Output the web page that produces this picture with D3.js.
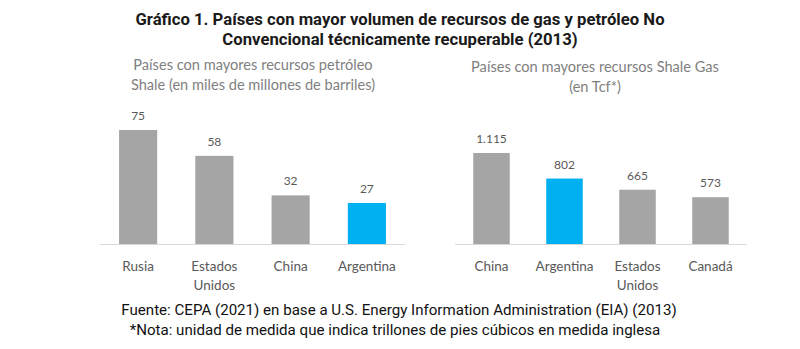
<!DOCTYPE html>
<html lang="es">
<head>
  <meta charset="utf-8">
  <title>Gráfico 1</title>
  <style>
    body { margin: 0; background: #fff; }
    svg { display: block; }
    .title { font-family: Roboto, sans-serif; font-weight: 700; font-size: 16.7px; fill: #1a1a1a; }
    .sub { font-family: Lato, "Open Sans", sans-serif; font-size: 14.6px; fill: #7f7f7f; }
    .val { font-family: Lato, sans-serif; font-size: 12px; fill: #595959; }
    .cat { font-family: Lato, sans-serif; font-size: 13.5px; fill: #595959; }
    .foot { font-family: Roboto, sans-serif; font-size: 15.1px; fill: #111; }
  </style>
</head>
<body>
  <div id="chart"></div>
  <script src="https://d3js.org/d3.v7.min.js"></script>
  <script>
    // datos
    var oilCountries = ["Rusia", "Estados Unidos", "China", "Argentina"];
    var oilValues = [75, 58, 32, 27];
    var gasCountries = ["China", "Argentina", "Estados Unidos", "Canadá"];
    var gasValues = [1115, 802, 665, 573];
    var highlight = "Argentina";

    var titleLines = ["Gráfico 1. Países con mayor volumen de recursos de gas y petróleo No",
                      "Convencional técnicamente recuperable (2013)"];
    var oilSub = ["Países con mayores recursos petróleo", "Shale (en miles de millones de barriles)"];
    var gasSub = ["Países con mayores recursos Shale Gas", "(en Tcf*)"];
    var footLines = ["Fuente: CEPA (2021) en base a U.S. Energy Information Administration (EIA) (2013)",
                     "*Nota: unidad de medida que indica trillones de pies cúbicos en medida inglesa"];

    var w = 800, h = 349;
    var base = 244;
    var es = d3.formatLocale({ decimal: ",", thousands: ".", grouping: [3], currency: ["$", ""] });
    var fmt = es.format(",");

    var svg = d3.select("#chart").append("svg").attr("width", w).attr("height", h);

    svg.selectAll(".title").data(titleLines).enter().append("text")
      .attr("class", "title").attr("x", 400).attr("y", (d, i) => 25 + i * 20)
      .attr("text-anchor", "middle").text(d => d);

    svg.selectAll(".foot").data(footLines).enter().append("text")
      .attr("class", "foot").attr("x", (d, i) => i ? 395 : 399).attr("y", (d, i) => 315 + i * 20)
      .attr("text-anchor", "middle").text(d => d);

    function panel(cats, vals, x0, x1, top, sub, subX, subY) {
      var g = svg.append("g");
      var x = d3.scaleBand().domain(cats).range([x0, x1]).paddingInner(0.5).paddingOuter(0.25);
      var y = d3.scaleLinear().domain([0, d3.max(vals)]).range([base, top]);
      var data = cats.map((c, i) => ({ c: c, v: vals[i] }));

      g.selectAll(".sub").data(sub).enter().append("text")
        .attr("class", "sub").attr("x", subX).attr("y", (d, i) => subY + i * 20)
        .attr("text-anchor", "middle").text(d => d);

      g.selectAll("rect").data(data).enter().append("rect")
        .attr("x", d => x(d.c)).attr("width", x.bandwidth())
        .attr("y", d => y(d.v)).attr("height", d => base - y(d.v))
        .attr("fill", d => d.c === highlight ? "#00b0f0" : "#a5a5a5");

      g.selectAll(".val").data(data).enter().append("text")
        .attr("class", "val").attr("x", d => x(d.c) + x.bandwidth() / 2)
        .attr("y", d => y(d.v) - 10).attr("text-anchor", "middle")
        .text(d => fmt(d.v));

      g.append("line").attr("x1", x0).attr("x2", x1).attr("y1", base + 0.5).attr("y2", base + 0.5)
        .attr("stroke", "#d9d9d9").attr("stroke-width", 1);

      var cat = g.selectAll(".cat").data(data).enter().append("text")
        .attr("class", "cat").attr("text-anchor", "middle")
        .attr("x", d => x(d.c) + x.bandwidth() / 2).attr("y", 271);
      cat.each(function (d) {
        var words = d.c === "Estados Unidos" ? ["Estados", "Unidos"] : [d.c];
        d3.select(this).selectAll("tspan").data(words).enter().append("tspan")
          .attr("x", x(d.c) + x.bandwidth() / 2).attr("dy", (t, i) => i ? 19 : 0).text(t => t);
      });
    }

    panel(oilCountries, oilValues, 100, 405, 130, oilSub, 253, 70);
    panel(gasCountries, gasValues, 455, 747, 153, gasSub, 595, 72);
  </script>
</body>
</html>
